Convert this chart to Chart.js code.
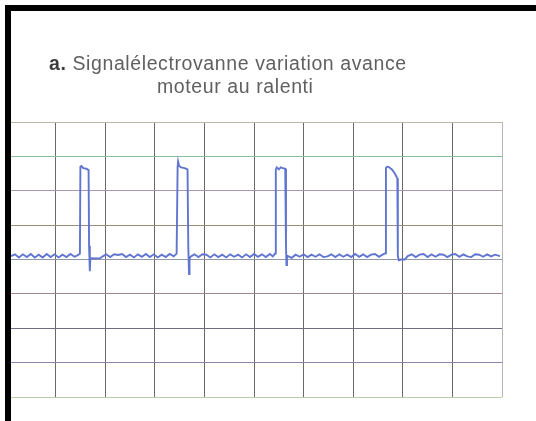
<!DOCTYPE html>
<html>
<head>
<meta charset="utf-8">
<script src="https://cdn.jsdelivr.net/npm/chart.js@4.4.1/dist/chart.umd.min.js"></script>
<style>
    html, body {
        margin: 0;
        padding: 0;
        background: #ffffff;
        width: 536px;
        height: 421px;
        overflow: hidden;
        position: relative;
        font-family: "Liberation Sans", Arial, sans-serif;
    }
    #scope {
        position: absolute;
        left: 0;
        top: 0;
    }
    .frame {
        position: absolute;
        left: 5px;
        top: 5px;
        width: 531px;
        height: 416px;
        border-top: 6px solid #000;
        border-left: 6px solid #000;
        box-sizing: border-box;
        z-index: 2;
    }
    .caption {
        position: absolute;
        font-size: 19.5px;
        line-height: 23px;
        letter-spacing: 0.6px;
        color: #606060;
        white-space: nowrap;
        z-index: 3;
    }
    .caption b {
        color: #3c3c3c;
    }
</style>
</head>
<body>
<canvas id="scope" width="536" height="421"></canvas>
<div class="frame"></div>
<div class="caption" style="left:49px; top:52px;"><b>a.</b> Signalélectrovanne variation avance</div>
<div class="caption" style="left:157px; top:75px;">moteur au ralenti</div>

<script>
// Screen divisions
const xTicks = [0, 1, 2, 3, 4, 5, 6, 7, 8, 9, 10];
const yTicks = [0, 1, 2, 3, 4, 5, 6, 7, 8];

// Horizontal line colours, bottom (0) to top (8)
const rowColors = ['#b6cfa6', '#9482aa', '#6e6e82', '#a28494', '#9098aa', '#9e8c7a', '#a898b8', '#8cbfa2', '#beb6a6'];

// Trace: time in divisions
const signalX = [
    0.10, 0.18, 0.26, 0.34, 0.42, 0.50, 0.58, 0.66, 0.74, 0.82, 0.90, 0.98, 1.06, 1.14, 1.22, 1.30, 1.38, 1.44, 1.49,
    1.50, 1.52, 1.56, 1.62, 1.665, 1.675, 1.69, 1.70, 1.72, 1.80, 1.90, 1.96,
    2.02, 2.10, 2.18, 2.26, 2.34, 2.42, 2.50, 2.58, 2.66, 2.74, 2.82, 2.90, 2.98, 3.06, 3.14, 3.22, 3.30, 3.38, 3.44,
    3.46, 3.47, 3.49, 3.53, 3.60, 3.66, 3.675, 3.69, 3.70, 3.72, 3.80, 3.88, 3.96,
    4.04, 4.12, 4.20, 4.28, 4.36, 4.44, 4.52, 4.60, 4.68, 4.76, 4.84, 4.92, 5.00, 5.08, 5.16, 5.24, 5.32, 5.38, 5.43,
    5.44, 5.46, 5.50, 5.54, 5.58, 5.63, 5.645, 5.655, 5.665, 5.68, 5.76, 5.84, 5.92,
    6.00, 6.08, 6.16, 6.24, 6.32, 6.40, 6.48, 6.56, 6.64, 6.72, 6.80, 6.88, 6.96, 7.04, 7.12, 7.20, 7.28, 7.36, 7.44, 7.52, 7.60, 7.65,
    7.66, 7.68, 7.72, 7.78, 7.84, 7.89, 7.90, 7.92, 7.96, 8.04, 8.10,
    8.18, 8.26, 8.34, 8.42, 8.50, 8.58, 8.66, 8.74, 8.82, 8.90, 8.98, 9.06, 9.14, 9.22, 9.30, 9.38, 9.46, 9.54, 9.62, 9.70, 9.78, 9.86, 9.96
];

// Trace: level in divisions
const signalY = [
    4.10, 4.15, 4.06, 4.15, 4.07, 4.16, 4.06, 4.14, 4.06, 4.16, 4.07, 4.15, 4.06, 4.14, 4.07, 4.16, 4.08, 4.12, 4.17,
    6.70, 6.72, 6.66, 6.64, 6.60, 4.40, 3.66, 4.00, 4.04, 4.03, 4.04, 4.10,
    4.15, 4.07, 4.15, 4.13, 4.16, 4.07, 4.14, 4.06, 4.15, 4.08, 4.16, 4.07, 4.15, 4.06, 4.14, 4.07, 4.16, 4.09, 4.17,
    6.70, 6.85, 6.72, 6.68, 6.66, 6.62, 4.40, 3.58, 4.02, 4.08, 4.15, 4.07, 4.15,
    4.14, 4.06, 4.15, 4.07, 4.14, 4.06, 4.15, 4.08, 4.14, 4.06, 4.15, 4.07, 4.16, 4.08, 4.15, 4.07, 4.16, 4.09, 4.18,
    6.62, 6.68, 6.62, 6.68, 6.66, 6.64, 4.40, 3.84, 4.06, 4.10, 4.05, 4.14, 4.08,
    4.15, 4.07, 4.14, 4.08, 4.15, 4.07, 4.09, 4.15, 4.07, 4.15, 4.08, 4.14, 4.07, 4.16, 4.08, 4.15, 4.07, 4.14, 4.16, 4.08, 4.15, 4.18,
    6.66, 6.70, 6.69, 6.62, 6.50, 6.36, 4.10, 3.98, 4.00, 4.00, 4.10,
    4.15, 4.07, 4.14, 4.16, 4.07, 4.15, 4.08, 4.15, 4.14, 4.07, 4.14, 4.16, 4.08, 4.15, 4.09, 4.07, 4.15, 4.14, 4.08, 4.15, 4.09, 4.14, 4.10
];

const points = signalX.map((x, i) => ({ x: x, y: signalY[i] }));

const ctx = document.getElementById('scope').getContext('2d');

new Chart(ctx, {
    type: 'line',
    data: {
        datasets: [{
            data: points,
            borderColor: '#6075d0',
            borderWidth: 1.9,
            pointRadius: 0,
            tension: 0,
            fill: false
        }]
    },
    options: {
        responsive: false,
        animation: false,
        layout: {
            padding: { left: 6, top: 122, right: 34, bottom: 24 }
        },
        plugins: {
            legend: { display: false },
            tooltip: { enabled: false },
            title: { display: false }
        },
        scales: {
            x: {
                type: 'linear',
                min: 0,
                max: 10,
                afterBuildTicks: (scale) => {
                    scale.ticks = xTicks.map(v => ({ value: v }));
                },
                ticks: { display: false },
                border: { display: false },
                grid: {
                    drawTicks: false,
                    lineWidth: 1,
                    color: (c) => c.tick && c.tick.value === 10 ? '#b4b4b4' : '#6a6a6a'
                }
            },
            y: {
                type: 'linear',
                min: 0,
                max: 8,
                afterBuildTicks: (scale) => {
                    scale.ticks = yTicks.map(v => ({ value: v }));
                },
                ticks: { display: false },
                border: { display: false },
                grid: {
                    drawTicks: false,
                    lineWidth: 1,
                    color: (c) => c.tick ? rowColors[c.tick.value] : '#999'
                }
            }
        }
    }
});
</script>
</body>
</html>
